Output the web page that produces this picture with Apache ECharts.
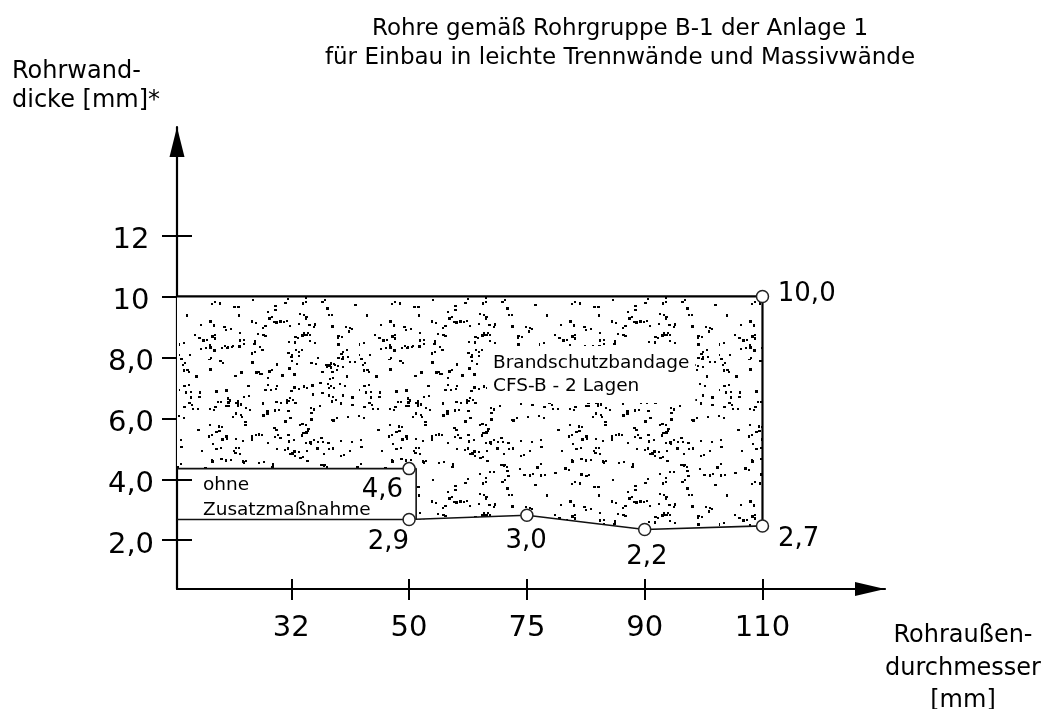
<!DOCTYPE html>
<html>
<head>
<meta charset="utf-8">
<script src="https://cdn.jsdelivr.net/npm/echarts@6/dist/echarts.min.js"></script>
<style>
html,body{margin:0;padding:0;background:#fff;}
#chart{width:1043px;height:709px;}
</style>
</head>
<body>
<div id="chart"></div>
<script>
// ---------- data ----------
const titleLines = ['Rohre gemäß Rohrgruppe B-1 der Anlage 1', 'für Einbau in leichte Trennwände und Massivwände'];
const yAxisTitle = ['Rohrwand-', 'dicke [mm]*'];
const xAxisTitle = ['Rohraußen-', 'durchmesser', '[mm]'];
const xCategories = ['32', '50', '75', '90', '110'];          // outer diameter [mm]
const xIndex = [1, 2, 3, 4, 5];                               // position of each category on the axis
const yTickValues = [2, 4, 6, 8, 10, 12];
const yTickLabels = ['2,0', '4,0', '6,0', '8,0', '10', '12'];
const upperLimit = 10.0;                                      // upper wall thickness limit
const upperLabel = '10,0';
const lowerEdge = [2.68, 2.82, 2.35, 2.47];                   // lower limit at 50, 75, 90, 110 (as drawn)
const lowerLabels = ['2,9', '3,0', '2,2', '2,7'];
const noMeasureTop = 4.35;                                    // "ohne Zusatzmaßnahme" upper bound (as drawn)
const noMeasureTopLabel = '4,6';
const areaText = ['Brandschutzbandage', 'CFS-B - 2 Lagen'];
const boxText = ['ohne', 'Zusatzmaßnahme'];

// ---------- layout constants ----------
const X_MIN = 0.03, X_MAX = 6.04, Y_MIN = 0.40, Y_MAX = 15.56;
const BOX_RIGHT = 2.06;
const FONT = '"DejaVu Sans", sans-serif';
const INK = '#000';

// stipple texture (deterministic)
function mulberry32(a){return function(){a|=0;a=a+0x6D2B79F5|0;let t=Math.imul(a^a>>>15,1|a);t=t+Math.imul(t^t>>>7,61|t)^t;return((t^t>>>14)>>>0)/4294967296;};}
function makeStipple(){
  const N = 180;
  const c = document.createElement('canvas');
  c.width = N; c.height = N;
  const ctx = c.getContext('2d');
  ctx.fillStyle = '#fff'; ctx.fillRect(0,0,N,N);
  const r = mulberry32(2024);
  ctx.fillStyle = '#000';
  for (let i = 0; i < 290; i++) {
    const x = Math.floor(r()*N), y = Math.floor(r()*N);
    const w = r() < 0.5 ? 2 : 3, h = r() < 0.6 ? 2 : 3;
    ctx.fillRect(x, y, w, h);
    if (r() < 0.3) ctx.fillRect((x + 3 + Math.floor(r()*3)) % N, (y + Math.floor(r()*5) - 2 + N) % N, 2, 2);
  }
  return c;
}
const stipple = makeStipple();

const chart = echarts.init(document.getElementById('chart'));

const xTickValues = xIndex.slice();
const lowerLine = [[X_MIN, lowerEdge[0]]].concat(xIndex.slice(1).map((x, i) => [x, lowerEdge[i]]));
const poly = [[X_MIN, upperLimit], [xIndex[4], upperLimit]]
  .concat(xIndex.slice(2).map((x, i) => [x, lowerEdge[i + 1]]).reverse())
  .concat([[BOX_RIGHT, lowerEdge[0]], [BOX_RIGHT, noMeasureTop], [X_MIN, noMeasureTop]]);

const points = [
  [xIndex[1], noMeasureTop, noMeasureTopLabel],
  [xIndex[1], lowerEdge[0], lowerLabels[0]],
  [xIndex[2], lowerEdge[1], lowerLabels[1]],
  [xIndex[3], lowerEdge[2], lowerLabels[2]],
  [xIndex[4], lowerEdge[3], lowerLabels[3]],
  [xIndex[4], upperLimit, upperLabel]
];
const labelOffsets = [[-26, 22], [-20, 23], [0, 27], [3, 28], [37, 14], [45, -1]];
const SYM = 12;

const axisCommonX = {type: 'value', min: X_MIN, max: X_MAX, splitLine: {show: false}};
const axisCommonY = {type: 'value', min: Y_MIN, max: Y_MAX, splitLine: {show: false}};

chart.setOption({
  animation: false,
  backgroundColor: '#fff',
  title: {
    text: titleLines.join('\n'),
    left: 620, top: 15, textAlign: 'center', padding: 0,
    textStyle: {fontFamily: FONT, fontSize: 23, fontWeight: 'normal', lineHeight: 29, color: INK}
  },
  grid: {left: 177, right: 158, top: 127, bottom: 120, containLabel: false},
  xAxis: [
    Object.assign({}, axisCommonX, {
      position: 'bottom',
      axisLine: {show: true, onZero: false, symbol: ['none', 'triangle'], symbolSize: [14, 30], symbolOffset: [0, -15],
        lineStyle: {color: INK, width: 2.2}},
      axisTick: {show: true, inside: false, length: 11, customValues: xTickValues, lineStyle: {color: INK, width: 2}},
      axisLabel: {show: true, customValues: xTickValues, margin: 25, fontFamily: FONT, fontSize: 29, color: INK,
        formatter: v => xCategories[xIndex.indexOf(v)]}
    }),
    Object.assign({}, axisCommonX, {
      position: 'bottom',
      axisLine: {show: false, onZero: false},
      axisTick: {show: true, inside: true, length: 10, customValues: xTickValues, lineStyle: {color: INK, width: 2}},
      axisLabel: {show: false}
    })
  ],
  yAxis: [
    Object.assign({}, axisCommonY, {
      position: 'left',
      axisLine: {show: true, onZero: false, symbol: ['none', 'triangle'], symbolSize: [15, 30], symbolOffset: [0, -15],
        lineStyle: {color: INK, width: 2.2}},
      axisTick: {show: true, inside: false, length: 15, customValues: yTickValues, lineStyle: {color: INK, width: 2}},
      axisLabel: {show: true, customValues: yTickValues, margin: 46, align: 'center', color: INK,
        formatter: v => '{t|' + yTickLabels[yTickValues.indexOf(v)] + '}',
        rich: {t: {fontFamily: FONT, fontSize: 29, color: INK, padding: [10, 0, 0, 0]}}}
    }),
    Object.assign({}, axisCommonY, {
      position: 'left',
      axisLine: {show: false, onZero: false},
      axisTick: {show: true, inside: true, length: 15, customValues: yTickValues, lineStyle: {color: INK, width: 2}},
      axisLabel: {show: false}
    })
  ],
  series: [
    {
      type: 'custom', coordinateSystem: 'cartesian2d', xAxisIndex: 0, yAxisIndex: 0, z: 1,
      data: [[X_MIN, upperLimit]],
      renderItem: function (params, api) {
        return {
          type: 'polygon',
          shape: {points: poly.map(p => api.coord(p))},
          style: {fill: {image: stipple, repeat: 'repeat'}, stroke: null}
        };
      },
      silent: true
    },
    {type: 'line', data: [[X_MIN, upperLimit], [xIndex[4], upperLimit], [xIndex[4], lowerEdge[3]]],
      symbol: 'none', lineStyle: {color: INK, width: 2.2}, z: 3, silent: true},
    {type: 'line', data: lowerLine, symbol: 'none', lineStyle: {color: '#111', width: 1.6}, z: 3, silent: true},
    {type: 'line', data: [[X_MIN, noMeasureTop], [BOX_RIGHT, noMeasureTop], [BOX_RIGHT, lowerEdge[0]]],
      symbol: 'none', lineStyle: {color: '#111', width: 1.6}, z: 3, silent: true},
    {
      type: 'scatter', z: 5, symbol: 'circle', symbolSize: SYM,
      itemStyle: {color: '#fff', borderColor: '#222', borderWidth: 1.5, opacity: 1},
      data: points.map((p, i) => ({
        value: [p[0], p[1]],
        label: {show: true, position: [SYM / 2 + labelOffsets[i][0], SYM / 2 + labelOffsets[i][1]],
          align: 'center', verticalAlign: 'middle', formatter: p[2],
          fontFamily: FONT, fontSize: 26, color: INK}
      }))
    }
  ],
  graphic: [
    {type: 'text', left: 12, top: 57, z: 100,
      style: {text: yAxisTitle.join('\n'), font: '24px ' + FONT, lineHeight: 29, fill: INK}},
    {type: 'text', x: 963, y: 620, z: 100,
      style: {text: xAxisTitle.join('\n'), font: '24px ' + FONT, lineHeight: 32.5, fill: INK, align: 'center', verticalAlign: 'top'}},
    {type: 'text', x: 203, y: 473, z: 100,
      style: {text: boxText.join('\n'), font: '18.5px ' + FONT, lineHeight: 25, fill: INK, verticalAlign: 'top'}},
    {type: 'text', x: 487, y: 346, z: 100,
      style: {text: areaText.join('\n'), font: '18.5px ' + FONT, lineHeight: 23.5, fill: INK, verticalAlign: 'top',
        backgroundColor: '#fff', padding: [5, 6, 5, 6]}}
  ]
});
</script>
</body>
</html>
